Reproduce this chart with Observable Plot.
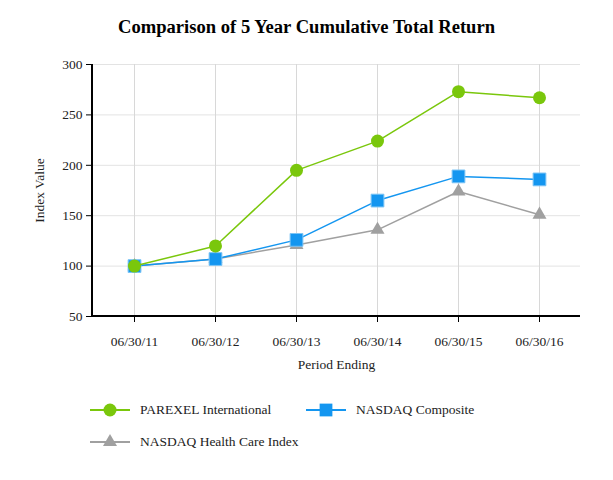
<!DOCTYPE html>
<html><head><meta charset="utf-8">
<script src="https://cdn.jsdelivr.net/npm/d3@7"></script>
<script src="https://cdn.jsdelivr.net/npm/@observablehq/plot@0.6"></script>
<style>
body{margin:0;background:#fff;font-family:"Liberation Serif","Times New Roman",serif;width:613px;}
#title{height:50px;line-height:54px;text-align:center;font-weight:bold;font-size:18.6px;color:#000;}
#legend{position:relative;height:104px;font-size:13.5px;color:#222;}
.li{position:absolute;display:flex;align-items:center;}
.li svg{margin-right:10px;}
</style></head><body>
<div id="title">Comparison of 5 Year Cumulative Total Return</div>
<div id="chart"></div>
<div id="legend"></div>
<script>
const periods = ["06/30/11","06/30/12","06/30/13","06/30/14","06/30/15","06/30/16"];
const parexel = [100,120,195,224,273,267];
const nasdaqComposite = [100,107,126,165,189,186];
const nasdaqHealthCare = [100,107,121,136,174,151];
const yTicks = [50,100,150,200,250,300];
const seriesNames = ["PAREXEL International","NASDAQ Composite","NASDAQ Health Care Index"];
const colors = ["#7ac70c","#1496f0","#a0a0a0"];
const symbols = ["circle","square","triangle"];
const radii = [6.5,7.2,5.2];

const seriesVals = [parexel, nasdaqComposite, nasdaqHealthCare];
const data = [];
seriesVals.forEach((vals,si)=>vals.forEach((v,i)=>data.push({series:seriesNames[si],period:periods[i],value:v})));
const drawOrder = [2,1,0];

const marks = [
  Plot.ruleY(yTicks,{stroke:"#e3e3e3",strokeWidth:1}),
  Plot.ruleX(periods,{stroke:"#d8d8d8",strokeWidth:1}),
  Plot.axisX({tickSize:6,tickPadding:14,fontSize:13.5,stroke:"#000",
    label:"Period Ending",labelAnchor:"center",labelArrow:"none",labelOffset:52}),
  Plot.axisY({ticks:yTicks,tickSize:6,tickPadding:4,fontSize:13.5,stroke:"#000",
    label:"Index Value",labelAnchor:"center",labelArrow:"none",labelOffset:58}),
];
for(const si of drawOrder){
  const d = data.filter(r=>r.series===seriesNames[si]);
  marks.push(Plot.line(d,{x:"period",y:"value",stroke:colors[si],strokeWidth:1.5}));
  marks.push(Plot.dot(d,{x:"period",y:"value",fill:colors[si],symbol:symbols[si],r:radii[si],stroke:si===1?"#7cc4f5":"none",strokeWidth:1}));
}
const plot = Plot.plot({
  width:613,height:326,
  marginLeft:92,marginRight:33,marginTop:14,marginBottom:60,
  style:{fontFamily:"'Liberation Serif','Times New Roman',serif",fontSize:"13.5px",color:"#222",background:"#fff",overflow:"visible"},
  x:{type:"point",domain:periods,padding:0.5},
  y:{domain:[50,300]},
  marks
});
document.getElementById("chart").appendChild(plot);
const svg = d3.select(plot);
svg.append("line").attr("x1",92).attr("x2",92).attr("y1",14).attr("y2",266).attr("stroke","#000").attr("stroke-width",2);
svg.append("line").attr("x1",91).attr("x2",580).attr("y1",266).attr("y2",266).attr("stroke","#000").attr("stroke-width",2);

const legend = document.getElementById("legend");
const pos = [[90,34],[306,34],[90,66]];
seriesNames.forEach((name,si)=>{
  const div = document.createElement("div");
  div.className="li";
  div.style.left=pos[si][0]+"px";
  div.style.top=(pos[si][1]-10)+"px";
  const s = d3.create("svg").attr("width",40).attr("height",20);
  s.append("line").attr("x1",0).attr("x2",40).attr("y1",10).attr("y2",10).attr("stroke",colors[si]).attr("stroke-width",2);
  const sym = {circle:d3.symbolCircle,square:d3.symbolSquare,triangle:d3.symbolTriangle}[symbols[si]];
  s.append("path").attr("transform","translate(20,10)").attr("d",d3.symbol(sym,Math.PI*radii[si]*radii[si])()).attr("fill",colors[si]);
  div.appendChild(s.node());
  const t=document.createElement("span"); t.textContent=name; div.appendChild(t);
  legend.appendChild(div);
});
</script>
</body></html>
